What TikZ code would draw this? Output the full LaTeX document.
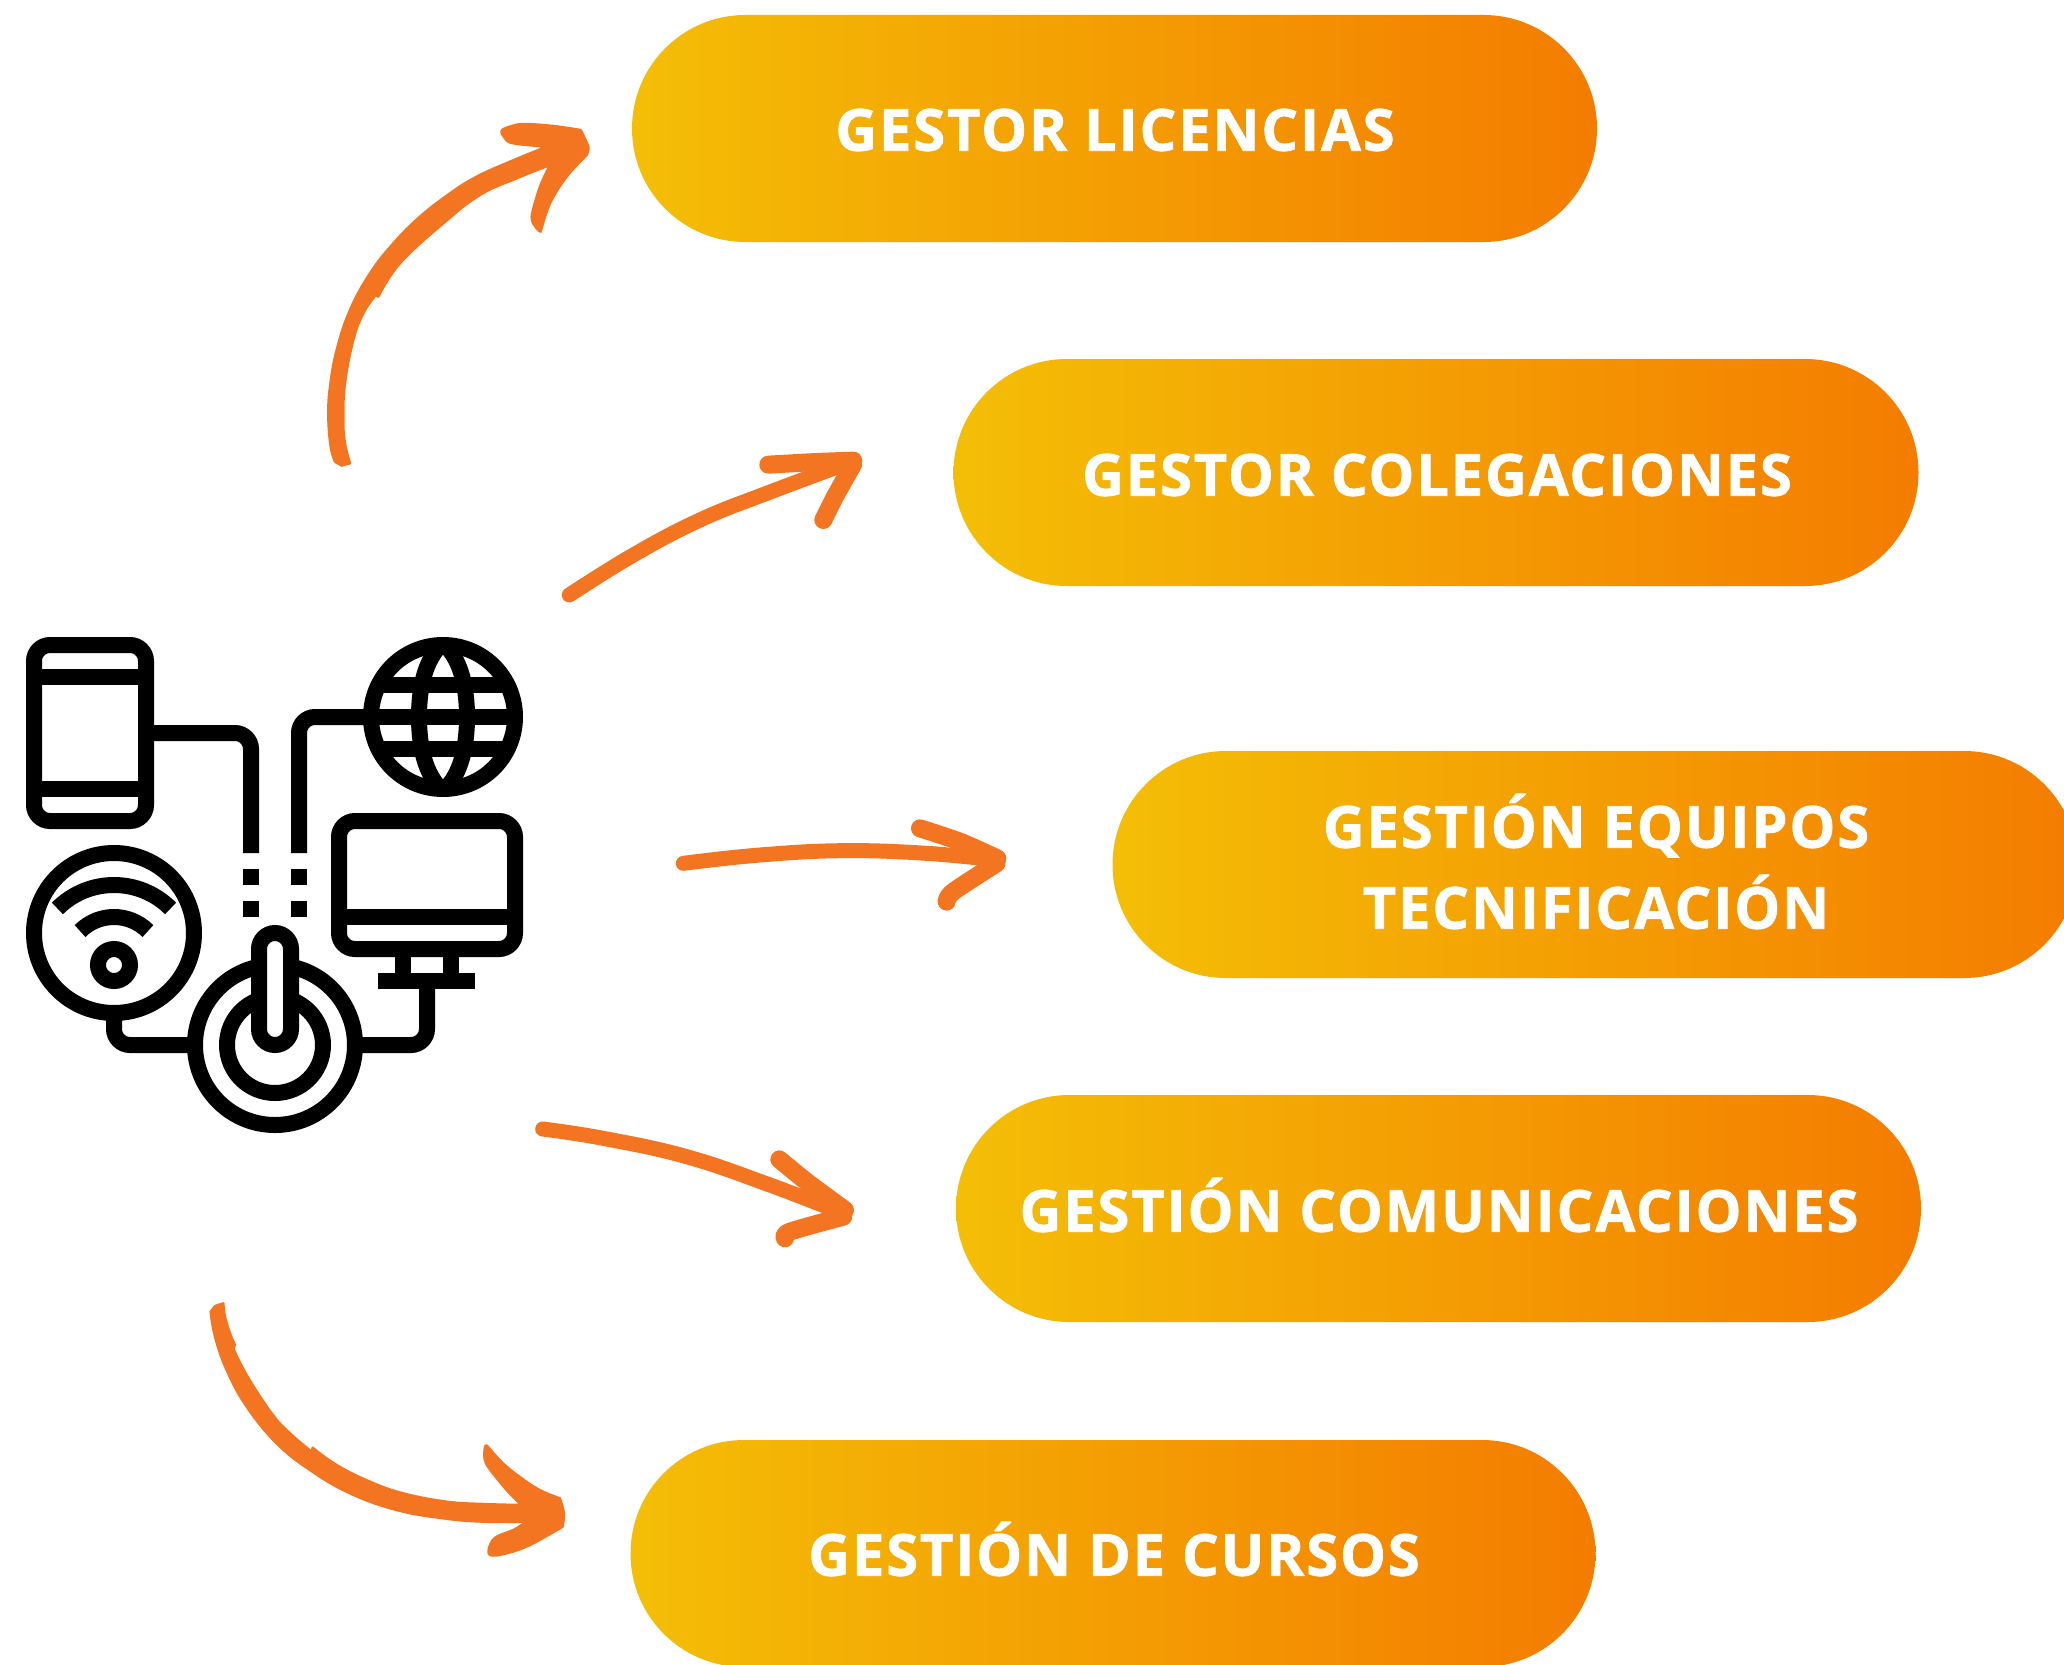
\documentclass[tikz,border=0pt]{standalone}
\usepackage{fontspec}
\newfontfamily\pillfont{Open Sans}[LetterSpace=3,BoldFeatures={FakeBold=1.1}]
\definecolor{handorange}{HTML}{F47521}
\definecolor{pillleft}{HTML}{F4BE06}
\definecolor{pillright}{HTML}{F47C00}
\tikzset{
  pill/.style={minimum width=482.5pt,minimum height=113.5pt,inner sep=0pt,rounded corners=56.7pt,left color=pillleft,right color=pillright,draw=none},
  pilltext/.style={text=white,font=\pillfont\bfseries\fontsize{29}{40.5}\selectfont,align=center,inner sep=0pt,text height=20.7pt,text depth=0pt},
  ico/.style={draw=black,line width=8pt,line join=miter},
  handfill/.style={fill=handorange,draw=handorange,line width=1.2pt,line join=round},
  handstroke/.style={draw=handorange,line width=7.5pt,line cap=round,line join=round},
  handbarb/.style={draw=handorange,line width=9pt,line cap=round,line join=round},
}
\begin{document}
\begin{tikzpicture}[x=0.5pt,y=-0.5pt]
\path[use as bounding box,clip] (0,0) rectangle (2064,1664);
\fill[white] (0,0) rectangle (2064,1664);

% pills
\node[pill] (p1) at (1114.5,128.5) {};
\node[pill] (p2) at (1436,472.5) {};
\node[pill] (p3) at (1595,864.5) {};
\node[pill] (p4) at (1438.5,1208.5) {};
\node[pill] (p5) at (1113,1553.5) {};
\node[pilltext] (t1) at (1115,130) {GESTOR LICENCIAS};
\node[pilltext] (t2) at (1437,475) {GESTOR COLEGACIONES};
\node[pilltext] (t3) at (1596,908) {GESTIÓN EQUIPOS\\TECNIFICACIÓN};
\node[pilltext] (t4) at (1439,1211) {GESTIÓN COMUNICACIONES};
\node[pilltext] (t5) at (1114,1555) {GESTIÓN DE CURSOS};

% icon: phone
\draw[ico,rounded corners=8pt] (34,645) rectangle (146,821);
\draw[ico] (34,677) -- (146,677);
\draw[ico] (34,789) -- (146,789);
\coordinate (phoneout) at (146,733);
\coordinate (phonewire) at (251,853);
\draw[ico,rounded corners=8pt] (phoneout) -- (251,733) -- (phonewire);
\fill (243,869) rectangle (259,885);
\fill (243,901) rectangle (259,917);

% icon: globe
\coordinate (globe) at (443,717);
\draw[ico] (globe) circle[radius=72];
\coordinate (globewire) at (299,853);
\draw[ico,rounded corners=8pt] (globewire) -- (299,717) -- (371,717);
\fill (291,869) rectangle (307,885);
\fill (291,901) rectangle (307,917);
\draw[ico] (378.5,685) -- (507.5,685);
\draw[ico] (371,717) -- (515,717);
\draw[ico] (378.5,749) -- (507.5,749);
\draw[ico] (443,643) .. controls (462,660) and (467,690) .. (467,717) .. controls (467,744) and (462,774) .. (443,791);
\draw[ico] (443,643) .. controls (424,660) and (419,690) .. (419,717) .. controls (419,744) and (424,774) .. (443,791);

% icon: monitor
\draw[ico,rounded corners=8pt] (339,821) rectangle (515,949);
\draw[ico] (339,917) -- (515,917);
\draw[ico] (403,949) -- (403,981);
\draw[ico] (451,949) -- (451,981);
\draw[ico] (378,981) -- (475,981);

% icon: wifi
\coordinate (wifi) at (114,933);
\draw[ico] (wifi) circle[radius=80];
\draw[ico] (114,965) circle[radius=16];
\draw[ico] (80.06,931.06) arc[start angle=-135,end angle=-45,radius=48];
\draw[ico] (57.43,908.43) arc[start angle=-135,end angle=-45,radius=80];

% icon: wires into power
\coordinate (power) at (275,1045);
\draw[ico,rounded corners=8pt] (114,1013) -- (114,1045) -- (195,1045);
\draw[ico,rounded corners=8pt] (355,1045) -- (427,1045) -- (427,981);

% icon: power
\draw[ico] (power) circle[radius=80];
\draw[ico] (power) circle[radius=48];
\draw[ico,fill=white,rounded corners=8pt] (259,933) rectangle (291,1045);

% arrow 1
\begin{scope}[shift={(310,100)},scale=0.3333]
\path[handfill] (75,1085) -- (95,1097) -- (120,1090)
 -- plot[smooth,tension=0.7] coordinates {(120,1090)(105,1030)(100,960)(105,850)(130,720)(160,640)(197,585)}
 -- (205,590)
 -- plot[smooth,tension=0.7] coordinates {(205,590)(270,490)(400,370)(510,285)(620,235)(720,195)}
 -- plot[smooth,tension=0.5] coordinates {(720,195)(690,260)(665,350)(680,385)(692,395)}
 -- plot[smooth,tension=0.6] coordinates {(692,395)(720,310)(770,230)(830,165)}
 -- plot[smooth,tension=0.5] coordinates {(830,165)(835,140)(812,90)}
 -- plot[smooth,tension=0.6] coordinates {(812,90)(730,78)(640,72)(600,80)(575,92)(585,115)(610,130)(710,140)}
 -- plot[smooth,tension=0.7] coordinates {(710,140)(600,185)(500,230)(420,280)(330,350)(250,430)(180,520)(120,630)(80,750)(60,860)(55,950)(62,1040)(75,1085)}
 -- cycle;
\end{scope}

% arrow 2
\begin{scope}[shift={(550,440)},scale=0.3333]
\draw[handstroke] plot[smooth,tension=0.7] coordinates {(58,465)(250,345)(450,240)(650,160)(905,65)};
\draw[handbarb] plot[smooth,tension=0.5] coordinates {(655,74)(800,66)(910,62)};
\draw[handbarb] plot[smooth,tension=0.5] coordinates {(820,240)(855,170)(910,72)};
\end{scope}

% arrow 3
\begin{scope}[shift={(660,800)},scale=0.3333]
\draw[handstroke] plot[smooth,tension=0.7] coordinates {(70,190)(300,165)(550,152)(800,160)(1010,180)};
\draw[handbarb] plot[smooth,tension=0.5] coordinates {(780,85)(900,125)(1012,175)};
\draw[handbarb] plot[smooth,tension=0.5] coordinates {(860,305)(880,275)(1010,190)};
\end{scope}

% arrow 4
\begin{scope}[shift={(520,1110)},scale=0.3333]
\draw[handstroke] plot[smooth,tension=0.7] coordinates {(68,57)(250,85)(500,140)(750,225)(970,310)};
\draw[handbarb] plot[smooth,tension=0.5] coordinates {(778,148)(860,215)(975,300)};
\draw[handbarb] plot[smooth,tension=0.5] coordinates {(795,385)(810,365)(970,320)};
\end{scope}

% arrow 5
\begin{scope}[shift={(190,1280)},scale=0.3333]
\path[handfill] (62,95) -- (75,78) -- (100,70)
 -- plot[smooth,tension=0.7] coordinates {(100,70)(105,110)(120,160)(135,195)}
 -- (130,205)
 -- plot[smooth,tension=0.7] coordinates {(130,205)(170,285)(245,400)(300,460)(365,515)}
 -- (368,503)
 -- plot[smooth,tension=0.7] coordinates {(368,503)(440,555)(540,605)(640,640)(770,665)(880,672)(995,675)}
 -- plot[smooth,tension=0.5] coordinates {(995,675)(950,630)(888,550)(885,500)(892,498)}
 -- plot[smooth,tension=0.6] coordinates {(892,498)(950,560)(1040,625)(1110,655)}
 -- plot[smooth,tension=0.5] coordinates {(1110,655)(1122,700)(1118,740)}
 -- plot[smooth,tension=0.6] coordinates {(1118,740)(1020,795)(950,820)(900,825)(900,795)(920,770)(970,750)(1010,725)}
 -- plot[smooth,tension=0.7] coordinates {(1010,725)(880,725)(760,715)(620,690)(480,640)(360,570)(260,490)(170,380)(110,270)(75,170)(62,95)}
 -- cycle;
\end{scope}
\end{tikzpicture}
\end{document}
